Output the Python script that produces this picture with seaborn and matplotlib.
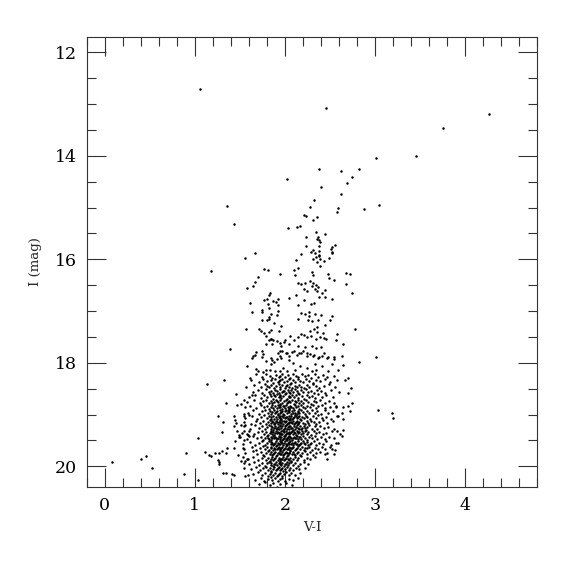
import matplotlib
matplotlib.use("Agg")
import matplotlib.pyplot as plt
from matplotlib.ticker import MultipleLocator
import seaborn as sns
import pandas as pd

# (V-I, I), grouped by part of the diagram
bright_stars = [
    (1.06, 12.71), (2.46, 13.08), (4.27, 13.20), (3.75, 13.46), (3.46, 14.00),
    (3.01, 14.04), (2.38, 14.25), (2.82, 14.25), (2.62, 14.30), (2.02, 14.44),
    (2.74, 14.41), (2.69, 14.53), (2.40, 14.61), (2.62, 14.73), (2.32, 14.86),
    (1.36, 14.96), (2.28, 14.99), (2.59, 15.00), (3.05, 14.95), (2.88, 15.02),
    (2.58, 15.08), (2.21, 15.14), (2.23, 15.17), (2.36, 15.19), (2.31, 15.24),
    (1.43, 15.32), (2.03, 15.39), (2.13, 15.38), (2.17, 15.36), (2.34, 15.47),
    (2.44, 15.52),
]

rgb_upper = [
    (2.23, 15.56), (2.37, 15.56), (2.36, 15.60), (2.38, 15.62), (2.39, 15.67),
    (2.23, 15.74), (2.38, 15.75), (2.56, 15.72), (2.52, 15.76), (2.31, 15.82),
    (2.38, 15.83), (2.51, 15.81), (2.52, 15.88), (2.18, 15.90), (2.29, 15.86),
    (2.33, 15.88), (2.38, 15.91), (1.67, 15.87), (1.56, 15.97), (2.31, 15.99),
    (2.39, 15.99), (2.34, 15.95), (2.38, 15.93), (2.43, 16.04), (2.36, 16.06),
    (2.39, 16.12), (2.49, 15.97), (2.52, 15.86), (2.12, 16.01), (2.15, 16.17),
    (2.10, 16.20), (2.30, 16.25), (2.31, 16.31), (2.48, 16.28), (2.49, 16.37),
    (2.54, 16.39), (2.11, 16.30), (2.68, 16.27), (2.72, 16.28), (2.68, 16.47),
    (2.75, 16.66), (2.14, 16.46), (2.18, 16.47), (2.22, 16.46), (2.28, 16.41),
    (2.31, 16.46), (2.34, 16.49), (2.30, 16.52), (2.37, 16.53), (2.33, 16.58),
    (2.36, 16.61), (2.21, 16.58), (2.24, 16.62), (2.45, 16.60), (2.41, 16.65),
    (2.45, 16.73), (2.38, 16.72), (2.32, 16.84), (2.29, 16.86), (2.21, 16.79),
    (2.14, 16.89), (2.52, 16.76), (2.12, 16.68), (2.04, 16.75), (2.18, 17.03),
    (2.22, 17.05), (2.27, 17.01), (2.27, 17.10), (2.33, 17.05), (2.40, 17.07),
    (2.37, 17.18), (2.30, 17.20), (2.26, 17.18), (2.14, 17.16), (2.52, 17.10),
    (2.50, 17.18), (2.45, 17.26), (2.36, 17.30), (2.32, 17.34), (2.28, 17.38),
    (2.36, 17.40), (2.42, 17.42), (2.18, 17.44), (2.21, 17.47), (2.25, 17.50),
    (2.29, 17.49), (2.34, 17.54), (2.39, 17.51), (2.43, 17.52), (2.46, 17.54),
    (2.58, 17.45), (2.57, 17.55), (2.64, 17.63), (2.78, 17.35), (2.06, 17.49),
    (2.10, 17.55), (2.15, 17.50), (1.99, 17.60), (2.05, 17.64), (2.15, 17.68),
    (2.22, 17.70), (2.30, 17.67), (2.35, 17.72), (2.40, 17.70), (2.48, 17.89),
    (2.55, 17.88), (2.25, 17.81), (2.31, 17.86), (2.37, 17.90), (2.41, 17.87),
    (2.10, 17.78), (2.16, 17.81), (2.20, 17.78), (2.01, 17.81), (1.96, 17.91),
    (2.04, 17.95), (2.09, 18.00),
]

blue_sequence = [
    (1.18, 16.22), (1.77, 16.19), (1.81, 16.20), (1.95, 16.28), (1.70, 16.35),
    (1.67, 16.44), (1.65, 16.52), (1.58, 16.55), (1.83, 16.65), (1.82, 16.68),
    (1.80, 16.76), (1.77, 16.78), (1.87, 16.80), (1.90, 16.82), (1.92, 16.76),
    (1.61, 16.84), (1.81, 16.86), (1.92, 16.89), (1.82, 16.95), (1.75, 16.98),
    (1.74, 17.01), (1.63, 17.02), (1.92, 17.00), (1.85, 17.05), (1.82, 17.11),
    (1.91, 17.08), (1.80, 17.18), (1.82, 17.15), (1.75, 17.18), (1.88, 17.24),
    (1.96, 17.28), (1.57, 17.34), (1.71, 17.34), (1.73, 17.39), (1.77, 17.42),
    (1.82, 17.40), (1.84, 17.36), (1.93, 17.38), (1.84, 17.53), (1.85, 17.54),
    (1.82, 17.56), (1.86, 17.64), (1.79, 17.64), (1.96, 17.68), (1.39, 17.74),
    (1.64, 17.87), (1.63, 17.90), (1.67, 17.84), (1.79, 17.49), (1.87, 17.55),
    (1.91, 17.58), (1.94, 17.61), (2.00, 17.56), (1.94, 17.78), (1.68, 17.80),
    (1.74, 17.78), (1.76, 17.82), (1.75, 17.88), (1.79, 17.97), (1.84, 17.90),
    (1.86, 17.95), (1.85, 18.03), (1.88, 17.99), (1.91, 17.92), (1.92, 17.81),
    (1.95, 17.86), (1.97, 17.78), (2.02, 17.81), (2.05, 17.86), (2.08, 17.80),
    (2.13, 17.84), (2.18, 17.81), (2.24, 17.87), (2.28, 17.82), (2.32, 17.84),
    (2.38, 17.88), (2.43, 17.81), (2.47, 17.90), (2.54, 17.92), (2.63, 17.87),
    (2.52, 18.03), (2.41, 18.06), (2.33, 18.03), (2.35, 18.13), (2.30, 18.16),
    (2.24, 18.10), (2.17, 18.07), (2.11, 18.13), (2.02, 18.16), (1.98, 18.10),
    (1.94, 18.16), (1.89, 18.16), (1.83, 18.13), (1.79, 18.13), (1.76, 18.18),
    (1.70, 18.16), (1.68, 18.12), (2.59, 18.13), (2.48, 18.16),
    (1.58, 18.07), (1.61, 18.29), (1.57, 18.46), (1.63, 18.62), (1.55, 18.72),
]

outliers = [
    (0.08, 19.91), (0.40, 19.85), (0.46, 19.81), (0.52, 20.04), (0.88, 20.14),
    (0.90, 19.75), (1.03, 20.27), (1.04, 19.46), (1.14, 18.41), (1.32, 18.34),
    (1.46, 18.60), (1.35, 18.78), (1.47, 18.82), (1.51, 18.80), (1.56, 18.86),
    (1.26, 19.02), (1.31, 19.15), (1.43, 19.03), (1.45, 19.11), (1.46, 19.17),
    (1.54, 18.98), (1.54, 19.02), (1.60, 19.01), (1.43, 19.23), (1.51, 19.21),
    (1.56, 19.21), (1.30, 19.33), (1.47, 19.32), (1.49, 19.39), (1.54, 19.31),
    (1.58, 19.38), (1.60, 19.42), (1.59, 19.40), (1.45, 19.51), (1.49, 19.44),
    (1.54, 19.50), (1.36, 19.64), (1.30, 19.70), (1.35, 19.75), (1.27, 19.75),
    (1.22, 19.75), (1.16, 19.78), (1.18, 19.81), (1.11, 19.73), (1.26, 19.87),
    (1.27, 19.92), (1.27, 19.96), (1.43, 19.65), (1.48, 19.79), (1.53, 19.65),
    (1.53, 19.82), (1.51, 19.89), (1.55, 19.94), (1.56, 19.90), (1.59, 19.85),
    (1.31, 20.12), (1.35, 20.12), (1.41, 20.14), (1.44, 20.16), (1.56, 20.19),
    (1.59, 20.16), (1.54, 20.03), (2.82, 17.99), (3.01, 17.89), (3.03, 18.92),
    (3.19, 18.96), (3.20, 19.06), (2.70, 18.30), (2.65, 18.04), (2.67, 18.34),
    (2.73, 18.49), (2.70, 18.59), (2.75, 18.77), (2.70, 18.84), (2.65, 18.86),
    (2.72, 18.94), (2.63, 18.96), (2.57, 18.86), (2.59, 19.03), (2.65, 19.09),
    (2.64, 19.29), (2.58, 19.31), (2.59, 19.54), (2.54, 19.76), (2.47, 19.85),
    (2.47, 19.74), (2.52, 19.66),
]

core_upper = [
    (1.68, 18.22), (1.74, 18.27), (1.79, 18.21), (1.83, 18.26), (1.86, 18.29),
    (1.90, 18.23), (1.93, 18.28), (1.97, 18.21), (2.00, 18.27), (2.03, 18.24),
    (2.06, 18.29), (2.09, 18.22), (2.12, 18.26), (2.15, 18.28), (2.19, 18.21),
    (2.22, 18.25), (2.26, 18.23), (2.29, 18.29), (2.33, 18.22), (2.37, 18.27),
    (2.42, 18.24), (2.47, 18.28), (2.55, 18.25), (1.95, 18.25),
    (1.62, 18.34), (1.71, 18.38), (1.76, 18.31), (1.80, 18.36), (1.84, 18.33),
    (1.87, 18.39), (1.89, 18.32), (1.92, 18.37), (1.95, 18.34), (1.97, 18.31),
    (1.99, 18.38), (2.02, 18.35), (2.04, 18.32), (2.07, 18.39), (2.09, 18.33),
    (2.11, 18.37), (2.14, 18.31), (2.17, 18.36), (2.20, 18.38), (2.23, 18.32),
    (2.27, 18.35), (2.31, 18.39), (2.35, 18.33), (2.39, 18.36), (2.44, 18.31),
    (2.50, 18.37), (2.58, 18.34), (1.93, 18.36),
    (1.66, 18.43), (1.73, 18.47), (1.78, 18.41), (1.82, 18.46), (1.85, 18.42),
    (1.88, 18.49), (1.90, 18.44), (1.93, 18.41), (1.95, 18.47), (1.97, 18.43),
    (2.00, 18.48), (2.02, 18.42), (2.04, 18.46), (2.06, 18.41), (2.08, 18.49),
    (2.11, 18.44), (2.13, 18.47), (2.16, 18.42), (2.18, 18.46), (2.21, 18.49),
    (2.24, 18.43), (2.27, 18.47), (2.31, 18.41), (2.34, 18.45), (2.38, 18.48),
    (2.43, 18.44), (2.49, 18.41), (2.56, 18.46), (1.80, 18.44), (2.01, 18.45),
    (1.64, 18.57), (1.70, 18.53), (1.75, 18.59), (1.79, 18.51), (1.82, 18.56),
    (1.85, 18.54), (1.87, 18.58), (1.89, 18.52), (1.91, 18.55), (1.93, 18.59),
    (1.95, 18.51), (1.97, 18.57), (1.99, 18.54), (2.01, 18.58), (2.03, 18.52),
    (2.05, 18.56), (2.07, 18.53), (2.09, 18.57), (2.11, 18.51), (2.13, 18.55),
    (2.15, 18.59), (2.18, 18.53), (2.20, 18.56), (2.23, 18.51), (2.26, 18.57),
    (2.29, 18.54), (2.32, 18.58), (2.36, 18.52), (2.40, 18.55), (2.45, 18.59),
    (2.51, 18.53), (2.60, 18.56), (1.98, 18.55), (2.06, 18.59),
]

core_middle = [
    (1.60, 18.66), (1.67, 18.62), (1.73, 18.68), (1.77, 18.63), (1.80, 18.67),
    (1.83, 18.61), (1.85, 18.65), (1.87, 18.69), (1.89, 18.64), (1.91, 18.61),
    (1.93, 18.67), (1.95, 18.63), (1.96, 18.68), (1.98, 18.65), (2.00, 18.61),
    (2.02, 18.69), (2.04, 18.64), (2.06, 18.67), (2.08, 18.62), (2.10, 18.66),
    (2.12, 18.63), (2.14, 18.68), (2.16, 18.61), (2.19, 18.65), (2.21, 18.69),
    (2.24, 18.62), (2.27, 18.66), (2.30, 18.64), (2.33, 18.68), (2.37, 18.61),
    (2.41, 18.66), (2.46, 18.63), (2.53, 18.67), (1.94, 18.64), (2.05, 18.66),
    (1.88, 18.62),
    (1.58, 18.76), (1.66, 18.72), (1.72, 18.78), (1.76, 18.74), (1.79, 18.71),
    (1.82, 18.77), (1.84, 18.73), (1.86, 18.78), (1.88, 18.75), (1.90, 18.71),
    (1.92, 18.76), (1.94, 18.79), (1.95, 18.72), (1.97, 18.77), (1.99, 18.74),
    (2.01, 18.71), (2.02, 18.78), (2.04, 18.73), (2.06, 18.76), (2.08, 18.72),
    (2.10, 18.79), (2.12, 18.75), (2.14, 18.71), (2.16, 18.77), (2.18, 18.74),
    (2.20, 18.78), (2.23, 18.72), (2.26, 18.75), (2.29, 18.79), (2.32, 18.73),
    (2.35, 18.76), (2.39, 18.71), (2.44, 18.77), (2.49, 18.74), (2.55, 18.78),
    (1.91, 18.74), (2.03, 18.75), (2.11, 18.73),
    (1.61, 18.84), (1.68, 18.88), (1.73, 18.82), (1.77, 18.86), (1.80, 18.83),
    (1.82, 18.89), (1.84, 18.85), (1.86, 18.81), (1.87, 18.87), (1.89, 18.84),
    (1.91, 18.88), (1.92, 18.82), (1.94, 18.86), (1.95, 18.81), (1.97, 18.89),
    (1.98, 18.84), (2.00, 18.87), (2.01, 18.82), (2.03, 18.86), (2.04, 18.89),
    (2.06, 18.83), (2.07, 18.85), (2.09, 18.88), (2.11, 18.82), (2.12, 18.86),
    (2.14, 18.84), (2.16, 18.89), (2.18, 18.81), (2.20, 18.85), (2.22, 18.88),
    (2.25, 18.83), (2.28, 18.86), (2.31, 18.81), (2.34, 18.87), (2.37, 18.84),
    (2.41, 18.82), (2.45, 18.88), (2.50, 18.85), (2.57, 18.83), (1.93, 18.85),
    (1.99, 18.83), (2.05, 18.87),
    (1.59, 18.96), (1.65, 18.92), (1.71, 18.98), (1.75, 18.94), (1.78, 18.91),
    (1.81, 18.97), (1.83, 18.93), (1.85, 18.99), (1.86, 18.95), (1.88, 18.92),
    (1.89, 18.97), (1.91, 18.94), (1.92, 18.99), (1.94, 18.91), (1.95, 18.96),
    (1.97, 18.93), (1.98, 18.98), (2.00, 18.94), (2.01, 18.91), (2.02, 18.97),
    (2.04, 18.95), (2.05, 18.92), (2.07, 18.98), (2.08, 18.94), (2.10, 18.91),
    (2.11, 18.96), (2.13, 18.99), (2.15, 18.93), (2.16, 18.97), (2.18, 18.92),
    (2.20, 18.95), (2.22, 18.98), (2.24, 18.93), (2.27, 18.96), (2.30, 18.91),
    (2.33, 18.97), (2.36, 18.94), (2.40, 18.98), (2.44, 18.92), (2.48, 18.96),
    (2.53, 18.93), (1.96, 18.95), (2.03, 18.93), (2.09, 18.97), (1.90, 18.95),
    (2.14, 18.95),
]

core_dense = [
    (1.56, 19.06), (1.63, 19.02), (1.69, 19.08), (1.73, 19.04), (1.77, 19.01),
    (1.80, 19.07), (1.82, 19.03), (1.84, 19.09), (1.85, 19.05), (1.87, 19.02),
    (1.88, 19.08), (1.90, 19.04), (1.91, 19.09), (1.92, 19.01), (1.94, 19.06),
    (1.95, 19.03), (1.96, 19.08), (1.98, 19.05), (1.99, 19.01), (2.00, 19.07),
    (2.02, 19.04), (2.03, 19.09), (2.04, 19.02), (2.06, 19.06), (2.07, 19.03),
    (2.08, 19.08), (2.10, 19.04), (2.11, 19.01), (2.13, 19.07), (2.14, 19.05),
    (2.16, 19.02), (2.17, 19.08), (2.19, 19.04), (2.21, 19.07), (2.23, 19.02),
    (2.25, 19.05), (2.28, 19.09), (2.31, 19.03), (2.34, 19.06), (2.37, 19.01),
    (2.41, 19.07), (2.46, 19.04), (2.51, 19.08), (2.58, 19.03), (1.93, 19.05),
    (1.97, 19.02), (2.01, 19.05), (2.05, 19.08), (2.09, 19.06), (2.12, 19.03),
    (1.54, 19.14), (1.62, 19.18), (1.68, 19.12), (1.72, 19.16), (1.76, 19.13),
    (1.79, 19.19), (1.81, 19.14), (1.83, 19.11), (1.85, 19.17), (1.86, 19.13),
    (1.88, 19.19), (1.89, 19.16), (1.90, 19.12), (1.92, 19.18), (1.93, 19.14),
    (1.94, 19.11), (1.96, 19.17), (1.97, 19.13), (1.98, 19.19), (2.00, 19.15),
    (2.01, 19.12), (2.02, 19.18), (2.04, 19.14), (2.05, 19.16), (2.06, 19.11),
    (2.08, 19.17), (2.09, 19.13), (2.10, 19.19), (2.12, 19.15), (2.13, 19.12),
    (2.15, 19.18), (2.16, 19.14), (2.18, 19.11), (2.20, 19.16), (2.22, 19.19),
    (2.24, 19.13), (2.26, 19.17), (2.29, 19.12), (2.32, 19.15), (2.35, 19.19),
    (2.38, 19.14), (2.42, 19.11), (2.47, 19.17), (2.53, 19.13), (1.91, 19.15),
    (1.95, 19.15), (1.99, 19.13), (2.03, 19.16), (2.07, 19.14), (2.11, 19.17),
    (1.87, 19.15), (2.14, 19.16),
    (1.55, 19.23), (1.61, 19.27), (1.67, 19.21), (1.71, 19.26), (1.75, 19.22),
    (1.78, 19.28), (1.80, 19.24), (1.82, 19.21), (1.84, 19.27), (1.85, 19.23),
    (1.87, 19.29), (1.88, 19.25), (1.89, 19.22), (1.91, 19.28), (1.92, 19.24),
    (1.93, 19.27), (1.95, 19.21), (1.96, 19.26), (1.97, 19.23), (1.98, 19.29),
    (2.00, 19.25), (2.01, 19.21), (2.02, 19.28), (2.03, 19.24), (2.05, 19.27),
    (2.06, 19.22), (2.07, 19.26), (2.09, 19.29), (2.10, 19.23), (2.11, 19.27),
    (2.13, 19.21), (2.14, 19.25), (2.16, 19.28), (2.17, 19.22), (2.19, 19.26),
    (2.21, 19.23), (2.23, 19.29), (2.25, 19.24), (2.27, 19.21), (2.30, 19.27),
    (2.33, 19.23), (2.36, 19.28), (2.39, 19.22), (2.43, 19.26), (2.48, 19.24),
    (2.55, 19.28), (1.90, 19.26), (1.94, 19.23), (1.99, 19.27), (2.04, 19.22),
    (2.08, 19.25), (2.12, 19.24), (2.18, 19.27), (1.86, 19.24), (2.00, 19.22),
    (2.22, 19.25),
    (1.52, 19.36), (1.60, 19.32), (1.66, 19.38), (1.70, 19.34), (1.74, 19.31),
    (1.77, 19.37), (1.79, 19.33), (1.81, 19.39), (1.83, 19.35), (1.84, 19.31),
    (1.86, 19.37), (1.87, 19.34), (1.88, 19.39), (1.90, 19.32), (1.91, 19.36),
    (1.92, 19.33), (1.94, 19.38), (1.95, 19.35), (1.96, 19.31), (1.97, 19.37),
    (1.99, 19.34), (2.00, 19.39), (2.01, 19.32), (2.02, 19.36), (2.04, 19.33),
    (2.05, 19.38), (2.06, 19.35), (2.08, 19.31), (2.09, 19.37), (2.10, 19.34),
    (2.12, 19.39), (2.13, 19.32), (2.15, 19.36), (2.16, 19.33), (2.18, 19.38),
    (2.20, 19.35), (2.22, 19.31), (2.24, 19.37), (2.26, 19.34), (2.29, 19.39),
    (2.32, 19.32), (2.35, 19.36), (2.38, 19.33), (2.42, 19.38), (2.46, 19.35),
    (2.52, 19.31), (2.61, 19.37), (1.89, 19.35), (1.93, 19.36), (1.98, 19.32),
    (2.03, 19.35), (2.07, 19.33), (2.11, 19.36), (2.14, 19.34), (1.85, 19.33),
    (1.96, 19.38), (2.19, 19.32), (2.01, 19.37),
    (1.50, 19.44), (1.58, 19.48), (1.64, 19.42), (1.69, 19.46), (1.73, 19.43),
    (1.76, 19.49), (1.78, 19.45), (1.80, 19.41), (1.82, 19.47), (1.84, 19.44),
    (1.85, 19.49), (1.87, 19.42), (1.88, 19.46), (1.89, 19.43), (1.91, 19.48),
    (1.92, 19.45), (1.93, 19.41), (1.95, 19.47), (1.96, 19.43), (1.97, 19.49),
    (1.99, 19.46), (2.00, 19.42), (2.01, 19.48), (2.03, 19.44), (2.04, 19.41),
    (2.05, 19.47), (2.07, 19.45), (2.08, 19.49), (2.10, 19.43), (2.11, 19.46),
    (2.13, 19.42), (2.14, 19.48), (2.16, 19.44), (2.18, 19.47), (2.20, 19.41),
    (2.22, 19.45), (2.24, 19.49), (2.27, 19.43), (2.30, 19.46), (2.33, 19.42),
    (2.36, 19.48), (2.40, 19.44), (2.44, 19.47), (2.49, 19.43), (2.55, 19.46),
    (2.63, 19.42), (1.90, 19.45), (1.94, 19.44), (1.98, 19.47), (2.02, 19.45),
    (2.06, 19.43), (2.09, 19.46), (2.12, 19.45), (1.86, 19.45), (2.17, 19.43),
    (1.99, 19.41), (2.02, 19.49), (1.81, 19.46),
]

core_lower = [
    (1.53, 19.57), (1.61, 19.53), (1.67, 19.59), (1.71, 19.55), (1.75, 19.52),
    (1.78, 19.58), (1.80, 19.54), (1.82, 19.51), (1.84, 19.57), (1.85, 19.53),
    (1.87, 19.59), (1.88, 19.56), (1.90, 19.52), (1.91, 19.58), (1.92, 19.54),
    (1.94, 19.51), (1.95, 19.57), (1.96, 19.53), (1.98, 19.59), (1.99, 19.55),
    (2.00, 19.52), (2.02, 19.58), (2.03, 19.54), (2.05, 19.57), (2.06, 19.51),
    (2.08, 19.55), (2.09, 19.59), (2.11, 19.53), (2.12, 19.56), (2.14, 19.52),
    (2.16, 19.58), (2.18, 19.54), (2.20, 19.51), (2.22, 19.57), (2.24, 19.53),
    (2.26, 19.59), (2.29, 19.55), (2.32, 19.52), (2.35, 19.58), (2.38, 19.54),
    (2.42, 19.56), (2.46, 19.52), (2.51, 19.58), (2.57, 19.54), (1.89, 19.55),
    (1.93, 19.56), (1.97, 19.54), (2.01, 19.56), (2.04, 19.53), (2.07, 19.56),
    (2.10, 19.55), (2.13, 19.57), (1.86, 19.55), (2.17, 19.56), (2.21, 19.54),
    (2.28, 19.56),
    (1.55, 19.66), (1.63, 19.62), (1.68, 19.68), (1.72, 19.64), (1.76, 19.61),
    (1.78, 19.67), (1.80, 19.63), (1.82, 19.69), (1.84, 19.65), (1.85, 19.62),
    (1.87, 19.68), (1.88, 19.64), (1.90, 19.61), (1.91, 19.67), (1.93, 19.63),
    (1.94, 19.69), (1.95, 19.66), (1.97, 19.62), (1.98, 19.68), (2.00, 19.64),
    (2.01, 19.61), (2.03, 19.67), (2.04, 19.63), (2.06, 19.69), (2.07, 19.65),
    (2.09, 19.62), (2.11, 19.68), (2.13, 19.64), (2.15, 19.61), (2.17, 19.67),
    (2.19, 19.63), (2.21, 19.69), (2.24, 19.65), (2.27, 19.62), (2.30, 19.68),
    (2.33, 19.64), (2.37, 19.67), (2.41, 19.62), (2.45, 19.66), (2.50, 19.63),
    (2.56, 19.68), (1.89, 19.66), (1.96, 19.65), (2.02, 19.66), (2.08, 19.65),
    (1.92, 19.65), (2.05, 19.64), (1.99, 19.66), (2.12, 19.66), (2.22, 19.65),
    (1.56, 19.75), (1.64, 19.71), (1.69, 19.77), (1.73, 19.73), (1.76, 19.79),
    (1.79, 19.74), (1.81, 19.71), (1.83, 19.77), (1.85, 19.73), (1.86, 19.79),
    (1.88, 19.75), (1.89, 19.72), (1.91, 19.78), (1.92, 19.74), (1.94, 19.71),
    (1.95, 19.77), (1.97, 19.73), (1.98, 19.79), (2.00, 19.75), (2.01, 19.72),
    (2.03, 19.78), (2.04, 19.74), (2.06, 19.71), (2.08, 19.77), (2.09, 19.73),
    (2.11, 19.79), (2.13, 19.75), (2.15, 19.72), (2.17, 19.78), (2.19, 19.74),
    (2.22, 19.71), (2.25, 19.77), (2.28, 19.73), (2.31, 19.78), (2.35, 19.74),
    (2.39, 19.72), (2.44, 19.76), (1.87, 19.76), (1.93, 19.75), (1.99, 19.76),
    (2.05, 19.75), (2.02, 19.74), (1.96, 19.76), (2.10, 19.76),
    (1.58, 19.86), (1.65, 19.82), (1.70, 19.88), (1.74, 19.84), (1.77, 19.81),
    (1.79, 19.87), (1.81, 19.83), (1.83, 19.89), (1.84, 19.85), (1.86, 19.82),
    (1.87, 19.88), (1.89, 19.84), (1.90, 19.81), (1.92, 19.87), (1.93, 19.83),
    (1.95, 19.89), (1.96, 19.85), (1.98, 19.82), (1.99, 19.88), (2.01, 19.84),
    (2.02, 19.81), (2.04, 19.87), (2.06, 19.83), (2.07, 19.89), (2.09, 19.85),
    (2.11, 19.82), (2.13, 19.88), (2.15, 19.84), (2.18, 19.81), (2.21, 19.87),
    (2.24, 19.83), (2.28, 19.86), (2.33, 19.82), (1.88, 19.86), (1.94, 19.85),
    (2.00, 19.86), (2.03, 19.85), (1.97, 19.86),
]

core_faint = [
    (1.60, 19.95), (1.66, 19.91), (1.71, 19.97), (1.75, 19.93), (1.78, 19.99),
    (1.80, 19.94), (1.82, 19.91), (1.84, 19.97), (1.85, 19.93), (1.87, 19.99),
    (1.88, 19.95), (1.90, 19.92), (1.91, 19.98), (1.93, 19.94), (1.94, 19.91),
    (1.96, 19.97), (1.97, 19.93), (1.99, 19.99), (2.00, 19.95), (2.02, 19.92),
    (2.03, 19.98), (2.05, 19.94), (2.07, 19.91), (2.09, 19.97), (2.11, 19.93),
    (2.14, 19.99), (2.17, 19.95), (2.21, 19.92), (2.26, 19.96), (1.89, 19.96),
    (1.95, 19.95), (2.01, 19.96),
    (1.62, 20.06), (1.68, 20.02), (1.72, 20.08), (1.76, 20.04), (1.79, 20.01),
    (1.81, 20.07), (1.83, 20.03), (1.85, 20.09), (1.87, 20.05), (1.88, 20.02),
    (1.90, 20.08), (1.92, 20.04), (1.93, 20.01), (1.95, 20.07), (1.97, 20.03),
    (1.98, 20.09), (2.00, 20.05), (2.02, 20.02), (2.04, 20.08), (2.06, 20.04),
    (2.09, 20.07), (2.12, 20.03), (2.16, 20.06), (2.22, 20.04), (1.91, 20.06),
    (1.96, 20.05),
    (1.64, 20.15), (1.70, 20.11), (1.74, 20.17), (1.78, 20.13), (1.81, 20.19),
    (1.83, 20.14), (1.85, 20.11), (1.87, 20.17), (1.89, 20.13), (1.91, 20.19),
    (1.93, 20.15), (1.95, 20.12), (1.97, 20.18), (1.99, 20.14), (2.01, 20.11),
    (2.04, 20.17), (2.07, 20.13), (2.11, 20.16), (2.17, 20.12), (1.92, 20.16),
    (1.67, 20.26), (1.73, 20.22), (1.77, 20.28), (1.81, 20.24), (1.84, 20.21),
    (1.86, 20.27), (1.89, 20.23), (1.92, 20.29), (1.94, 20.25), (1.97, 20.22),
    (2.00, 20.28), (2.04, 20.24), (2.09, 20.27), (2.15, 20.23),
    (1.71, 20.35), (1.78, 20.31), (1.83, 20.37), (1.87, 20.33), (1.91, 20.39),
    (1.95, 20.34), (2.01, 20.32), (2.08, 20.36),
]

groups = [bright_stars, rgb_upper, blue_sequence, outliers,
          core_upper, core_middle, core_dense, core_lower, core_faint]
stars = [p for g in groups for p in g]
df = pd.DataFrame(stars, columns=["vi", "imag"])

sns.set_style("ticks")
plt.rcParams["font.family"] = ["DejaVu Serif"]
plt.rcParams["axes.linewidth"] = 0.8

fig = plt.figure(figsize=(5.75, 5.75), dpi=100)
ax = fig.add_axes([0.151, 0.153, 0.783, 0.783])

sns.scatterplot(data=df, x="vi", y="imag", ax=ax, color="black",
                marker="o", s=3.2, linewidth=0, legend=False)

ax.set_xlim(-0.2, 4.8)
ax.set_ylim(20.4, 11.7)
ax.xaxis.set_major_locator(MultipleLocator(1))
ax.xaxis.set_minor_locator(MultipleLocator(0.2))
ax.yaxis.set_major_locator(MultipleLocator(2))
ax.yaxis.set_minor_locator(MultipleLocator(0.5))
ax.tick_params(which="both", direction="in", top=True, right=True,
               width=0.8, colors="#333333", labelcolor="black")
ax.tick_params(which="major", length=13.5, labelsize=12.5, pad=7)
ax.tick_params(which="minor", length=6.5)
for s in ax.spines.values():
    s.set_color("#333333")

ax.set_xlabel("V-I", fontsize=9.5, labelpad=5)
ax.set_ylabel("I (mag)", fontsize=9.5, labelpad=9)

fig.savefig("out.png", dpi=100)
